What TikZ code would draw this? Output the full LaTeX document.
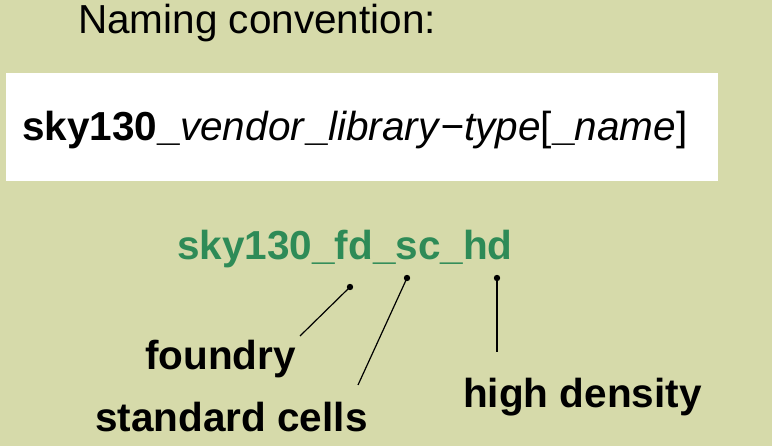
\documentclass[tikz,border=0pt]{standalone}
\usepackage{fontspec}
\setmainfont{Liberation Sans}
\usepackage{tikz}
\definecolor{mybg}{RGB}{214, 218, 170}
\definecolor{mygreen}{RGB}{46, 139, 87}
\tikzset{lbl/.style = {anchor = base west, inner sep = 0pt, font = \fontsize{40.5}{48}\selectfont\bfseries}}
\tikzset{plain/.style = {font = \fontsize{40.5}{48}\selectfont}}

\begin{document}
\begin{tikzpicture}[x = 1pt, y = -1pt]
\fill[mybg] (0,0) rectangle (772,446);
\useasboundingbox (0,0) rectangle (772,446);
\node [lbl, plain] (title) at (78,34) {Naming convention:};
\fill[white] (6,73) rectangle (718,181);
\node [lbl, plain] (pattern) at (22,141) {\textbf{sky130\_}\textit{vendor}\textbf{\_}\textit{library}\textit{−type}[\textbf{\_}\textit{name}]};
\node [lbl, text = mygreen] (lib) at (177,260) {sky130\_fd\_sc\_hd};
\coordinate (fd) at (350,287);
\coordinate (sc) at (407,278);
\coordinate (hd) at (497,278);
\coordinate (fdend) at (300,336);
\coordinate (scend) at (358,385);
\coordinate (hdend) at (497,352);
\node [lbl] (foundry) at (145,370) {foundry};
\node [lbl] (cells) at (95,432) {standard cells};
\node [lbl] (density) at (463,408) {high density};
\draw[line width = 1.2pt] (fd) -- (fdend);
\draw[line width = 1.2pt] (sc) -- (scend);
\draw[line width = 1.2pt] (hd) -- (hdend);
\fill (fd) circle (3.2);
\fill (sc) circle (3.2);
\fill (hd) circle (3.2);
\end{tikzpicture}
\end{document}
